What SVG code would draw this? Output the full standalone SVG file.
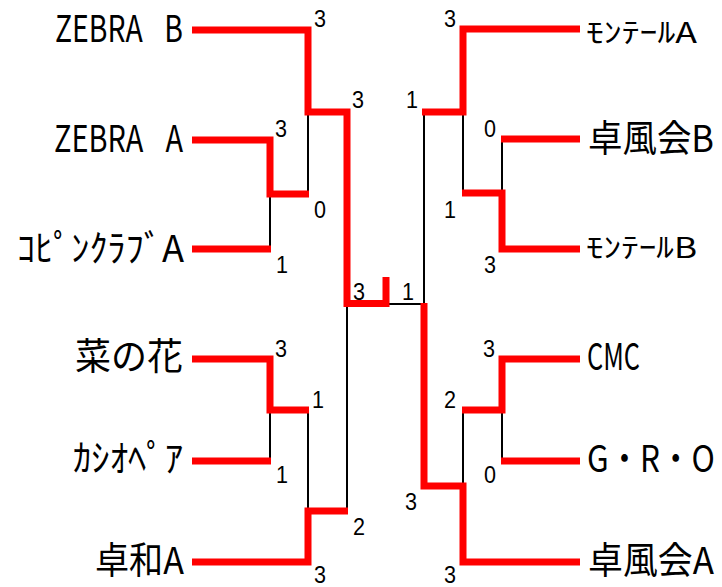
<svg xmlns="http://www.w3.org/2000/svg" width="722" height="587" viewBox="0 0 722 587">
<style>
.w{fill:none;stroke:#ff0000;stroke-width:7;stroke-linejoin:miter;stroke-linecap:butt}
.b{fill:none;stroke:#000;stroke-width:2}
.t{font-family:"Noto Sans CJK JP","Liberation Sans",sans-serif;font-size:37px;fill:#000}
.s{font-family:"Noto Sans CJK JP","Liberation Sans",sans-serif;font-size:28px;fill:#000}
.z{word-spacing:20px}
.n{font-family:"Liberation Sans",sans-serif;font-size:24px;fill:#000;text-anchor:middle}
</style>
<rect width="722" height="587" fill="#fff"/>
<g id="connectors">
<polyline class="b" points="308,112 308,194"/>
<polyline class="b" points="270,194 270,249"/>
<polyline class="b" points="270,410 270,461"/>
<polyline class="b" points="308,410 308,511"/>
<polyline class="b" points="347,303 347,511"/>
<polyline class="b" points="386,304 424,304"/>
<polyline class="b" points="424,112 424,304"/>
<polyline class="b" points="463,112 463,193"/>
<polyline class="b" points="502,139 502,193"/>
<polyline class="b" points="502,410 502,461"/>
<polyline class="b" points="463,410 463,486"/>
<polyline class="w" points="192,30 308,30 308,112 347,112 347,303.5 386,303.5 386,277"/>
<polyline class="w" points="192,140 270,140 270,194 309,194"/>
<polyline class="w" points="192,249 271,249"/>
<polyline class="w" points="192,359 270,359 270,410 309,410"/>
<polyline class="w" points="192,461 271,461"/>
<polyline class="w" points="192,562 308,562 308,511 348,511"/>
<polyline class="w" points="580,29 463,29 463,112 422,112"/>
<polyline class="w" points="580,139 501,139"/>
<polyline class="w" points="580,249 502,249 502,193 462,193"/>
<polyline class="w" points="580,359 502,359 502,410 462,410"/>
<polyline class="w" points="580,461 501,461"/>
<polyline class="w" points="580,562 463,562 463,486 424,486 424,303"/>
</g>
<g id="scores">
<text class="n" x="320" y="27" textLength="12" lengthAdjust="spacingAndGlyphs">3</text>
<text class="n" x="358" y="108" textLength="12" lengthAdjust="spacingAndGlyphs">3</text>
<text class="n" x="281" y="137" textLength="12" lengthAdjust="spacingAndGlyphs">3</text>
<text class="n" x="320" y="218" textLength="12" lengthAdjust="spacingAndGlyphs">0</text>
<text class="n" x="282" y="273" textLength="12" lengthAdjust="spacingAndGlyphs">1</text>
<text class="n" x="281" y="357" textLength="12" lengthAdjust="spacingAndGlyphs">3</text>
<text class="n" x="318" y="408" textLength="12" lengthAdjust="spacingAndGlyphs">1</text>
<text class="n" x="282" y="483" textLength="12" lengthAdjust="spacingAndGlyphs">1</text>
<text class="n" x="359" y="535" textLength="12" lengthAdjust="spacingAndGlyphs">2</text>
<text class="n" x="320" y="583" textLength="12" lengthAdjust="spacingAndGlyphs">3</text>
<text class="n" x="359" y="300" textLength="12" lengthAdjust="spacingAndGlyphs">3</text>
<text class="n" x="408" y="300" textLength="12" lengthAdjust="spacingAndGlyphs">1</text>
<text class="n" x="450" y="27" textLength="12" lengthAdjust="spacingAndGlyphs">3</text>
<text class="n" x="412" y="108" textLength="12" lengthAdjust="spacingAndGlyphs">1</text>
<text class="n" x="490" y="137" textLength="12" lengthAdjust="spacingAndGlyphs">0</text>
<text class="n" x="450" y="218" textLength="12" lengthAdjust="spacingAndGlyphs">1</text>
<text class="n" x="490" y="273" textLength="12" lengthAdjust="spacingAndGlyphs">3</text>
<text class="n" x="489" y="357" textLength="12" lengthAdjust="spacingAndGlyphs">3</text>
<text class="n" x="450" y="408" textLength="12" lengthAdjust="spacingAndGlyphs">2</text>
<text class="n" x="490" y="483" textLength="12" lengthAdjust="spacingAndGlyphs">0</text>
<text class="n" x="411" y="510" textLength="12" lengthAdjust="spacingAndGlyphs">3</text>
<text class="n" x="450" y="583" textLength="12" lengthAdjust="spacingAndGlyphs">3</text>
</g>
<g id="team-zebra-b"><text class="t z" x="55" y="42" textLength="128" lengthAdjust="spacingAndGlyphs">ZEBRA B</text></g>
<g id="team-zebra-a"><text class="t z" x="54" y="152" textLength="129" lengthAdjust="spacingAndGlyphs">ZEBRA A</text></g>
<g id="team-kopin-a"><text class="t" x="17" y="262" textLength="167" lengthAdjust="spacingAndGlyphs">ｺﾋﾟﾝｸﾗﾌﾞA</text></g>
<g id="team-nanohana"><text class="t" x="75" y="370" textLength="108" lengthAdjust="spacingAndGlyphs">菜の花</text></g>
<g id="team-kashio"><text class="t" x="73" y="472" textLength="110" lengthAdjust="spacingAndGlyphs">ｶｼｵﾍﾟｱ</text></g>
<g id="team-takuwa-a"><text class="t" x="95" y="574" textLength="89" lengthAdjust="spacingAndGlyphs">卓和A</text></g>
<g id="team-montale-a"><text class="s" x="586" y="43" textLength="111" lengthAdjust="spacingAndGlyphs">ﾓﾝﾃｰﾙA</text></g>
<g id="team-takufukai-b"><text class="t" x="588" y="152" textLength="126" lengthAdjust="spacingAndGlyphs">卓風会B</text></g>
<g id="team-montale-b"><text class="s" x="586" y="258" textLength="111" lengthAdjust="spacingAndGlyphs">ﾓﾝﾃｰﾙB</text></g>
<g id="team-cmc"><text class="t" x="587" y="370" textLength="53" lengthAdjust="spacingAndGlyphs">CMC</text></g>
<g id="team-gro"><text class="t" x="0" y="0" transform="translate(587,472) scale(0.85,1)">G・R・O</text></g>
<g id="team-takufukai-a"><text class="t" x="588" y="574" textLength="126" lengthAdjust="spacingAndGlyphs">卓風会A</text></g>
</svg>
